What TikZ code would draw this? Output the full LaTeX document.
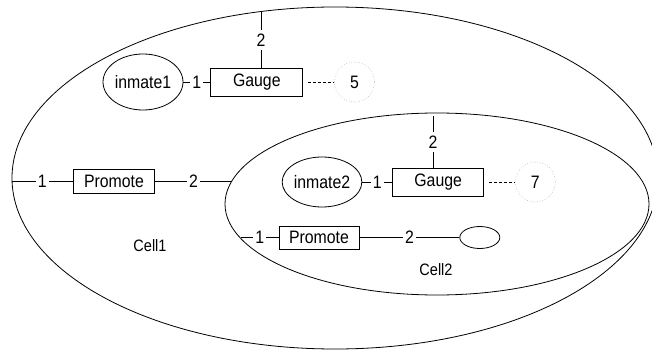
\documentclass[tikz,border=0pt]{standalone}
\usepackage{fontspec}
\setmainfont{Liberation Sans}[FakeStretch=0.88]
\usetikzlibrary{positioning, shapes.geometric}

\begin{document}
\begin{tikzpicture}[x=1pt, y=-1pt, line width=0.8pt,
	every node/.style={font=\fontsize{18}{21}\selectfont},
	cellwall/.style={draw, ellipse, inner sep=0pt},
	agent/.style={draw, ellipse, inner sep=0pt},
	block/.style={draw, rectangle, minimum height=28pt},
	valnode/.style={draw=gray!60, dotted, circle, minimum size=40pt, inner sep=0pt, line width=0.6pt},
	port/.style={fill=white, inner xsep=2pt, inner ysep=4pt},
	celllabel/.style={font=\fontsize{16.5}{19}\selectfont}]
	
	\useasboundingbox (0,0) rectangle (652,350);
	
	% Define cells
	\node [cellwall, minimum width=646pt, minimum height=342pt] (cell1) at (335,178) {};
	\node [cellwall, minimum width=424pt, minimum height=182pt] (cell2) at (437,204) {};
	
	% Nodes of Cell1
	\node [agent, minimum width=80pt, minimum height=56pt] (inmate1) at (143,82) {inmate1};
	\node [block, right=27pt of inmate1, minimum width=92pt] (gauge1) {Gauge};
	\node [valnode, right=31pt of gauge1] (val1) {5};
	\node [block, minimum width=81pt, minimum height=24pt] (promote1) at (114,181) {Promote};
	\node [celllabel] (label1) at (150,246) {Cell1};
	
	% Nodes of Cell2
	\node [agent, minimum width=78pt, minimum height=50pt] (inmate2) at (322,182) {inmate2};
	\node [block, right=30pt of inmate2, minimum width=91pt] (gauge2) {Gauge};
	\node [valnode, right=31pt of gauge2] (val2) {7};
	\node [block, minimum width=80pt, minimum height=23pt] (promote2) at (319,237.5) {Promote};
	\node [agent, right=100pt of promote2, minimum width=40pt, minimum height=22pt] (slot) {};
	\node [celllabel] (label2) at (436,270) {Cell2};
	
	% Points on the cell walls
	\coordinate (top1) at (261,12);
	\coordinate (top2) at (433,116);
	\coordinate (rim1) at (232,181);
	\coordinate (rim2) at (241,237.5);
	
	% Connections in Cell1
	\draw (inmate1) -- node[port]{1} (gauge1);
	\draw (top1) -- node[port]{2} (top1 |- gauge1.north);
	\draw[dash pattern=on 3pt off 2pt, shorten <=5pt] (gauge1) -- (val1);
	\draw (promote1 -| cell1.west) -- node[port]{1} (promote1);
	\draw (promote1) -- node[port]{2} (rim1);
	
	% Connections in Cell2
	\draw (inmate2) -- node[port]{1} (gauge2);
	\draw (top2) -- node[port]{2} (top2 |- gauge2.north);
	\draw[dash pattern=on 3pt off 2pt, shorten <=5pt] (gauge2) -- (val2);
	\draw (rim2) -- node[port]{1} (promote2);
	\draw (promote2) -- node[port]{2} (slot);
\end{tikzpicture}
\end{document}
